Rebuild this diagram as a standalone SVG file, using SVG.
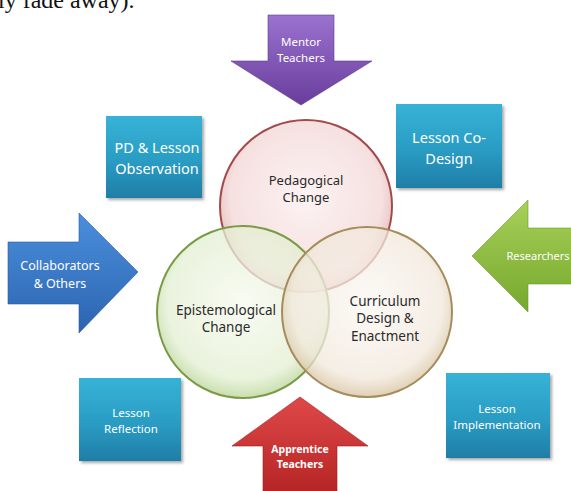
<svg xmlns="http://www.w3.org/2000/svg" width="571" height="491" viewBox="0 0 571 491">
  <defs>
    <style>
      .lbl { font-family: "Noto Sans", "Open Sans", sans-serif; text-anchor: middle; }
      .white { fill: #ffffff; }
      .dark { fill: #2a2a2a; }
      .box { fill: url(#teal); filter: url(#shadow); }
      .ring { stroke-width: 2; }
    </style>
    <linearGradient id="teal" x1="0" y1="0" x2="0" y2="1">
      <stop offset="0" stop-color="#36b3d6"/>
      <stop offset="0.55" stop-color="#2a9cc4"/>
      <stop offset="1" stop-color="#1f7ea6"/>
    </linearGradient>
    <linearGradient id="purple" x1="0" y1="0" x2="0" y2="1">
      <stop offset="0" stop-color="#9a72cf"/>
      <stop offset="1" stop-color="#6a3d9c"/>
    </linearGradient>
    <linearGradient id="blue" x1="0" y1="0" x2="0" y2="1">
      <stop offset="0" stop-color="#4a8fdc"/>
      <stop offset="1" stop-color="#2c64b0"/>
    </linearGradient>
    <linearGradient id="green" x1="0" y1="0" x2="0" y2="1">
      <stop offset="0" stop-color="#a8d05a"/>
      <stop offset="1" stop-color="#76a82c"/>
    </linearGradient>
    <linearGradient id="red" x1="0" y1="0" x2="0" y2="1">
      <stop offset="0" stop-color="#e04848"/>
      <stop offset="1" stop-color="#b42424"/>
    </linearGradient>
    <radialGradient id="pinkFill" cx="0.5" cy="0.45" r="0.55">
      <stop offset="0" stop-color="#fbeeee" stop-opacity="0.75"/>
      <stop offset="0.8" stop-color="#f3d6d6" stop-opacity="0.75"/>
      <stop offset="1" stop-color="#e2a8a8" stop-opacity="0.8"/>
    </radialGradient>
    <radialGradient id="greenFill" cx="0.5" cy="0.45" r="0.55">
      <stop offset="0" stop-color="#f5faee" stop-opacity="0.75"/>
      <stop offset="0.8" stop-color="#e3efd2" stop-opacity="0.75"/>
      <stop offset="1" stop-color="#bcd69a" stop-opacity="0.8"/>
    </radialGradient>
    <radialGradient id="tanFill" cx="0.5" cy="0.45" r="0.55">
      <stop offset="0" stop-color="#fbf7f2" stop-opacity="0.75"/>
      <stop offset="0.8" stop-color="#f1e8dc" stop-opacity="0.75"/>
      <stop offset="1" stop-color="#d8c4a2" stop-opacity="0.8"/>
    </radialGradient>
    <filter id="shadow" x="-10%" y="-10%" width="125%" height="125%">
      <feGaussianBlur in="SourceAlpha" stdDeviation="1.5"/>
      <feOffset dx="1.5" dy="2" result="b"/>
      <feComponentTransfer><feFuncA type="linear" slope="0.35"/></feComponentTransfer>
      <feMerge><feMergeNode/><feMergeNode in="SourceGraphic"/></feMerge>
    </filter>
  </defs>

  <rect width="571" height="491" fill="#ffffff"/>

  <!-- running text above the figure -->
  <text x="-2" y="8" font-family="Liberation Serif, serif" font-size="24" fill="#111">ly fade away).</text>

  <!-- overlapping change circles -->
  <g id="pedagogical">
    <circle class="ring" cx="306" cy="206" r="86" fill="url(#pinkFill)" stroke="#a14a4a"/>
    <text class="lbl dark" x="306" y="185" font-size="13">Pedagogical</text>
    <text class="lbl dark" x="306" y="202" font-size="13">Change</text>
  </g>
  <g id="epistemological">
    <circle class="ring" cx="243" cy="312" r="86" fill="url(#greenFill)" stroke="#7a9a48"/>
    <text class="lbl dark" x="226" y="315" font-size="13.5">Epistemological</text>
    <text class="lbl dark" x="226" y="332" font-size="13.5">Change</text>
  </g>
  <g id="curriculum">
    <circle class="ring" cx="367" cy="312" r="85" fill="url(#tanFill)" stroke="#a68c5c"/>
    <text class="lbl dark" x="385" y="306" font-size="13.5">Curriculum</text>
    <text class="lbl dark" x="385" y="323" font-size="13.5">Design &amp;</text>
    <text class="lbl dark" x="385" y="341" font-size="13.5">Enactment</text>
  </g>

  <!-- activity boxes -->
  <g id="pd-observation">
    <rect class="box" x="106" y="116" width="96" height="82"/>
    <text class="lbl white" x="157" y="153" font-size="14.5">PD &amp; Lesson</text>
    <text class="lbl white" x="157" y="174" font-size="14.5">Observation</text>
  </g>
  <g id="co-design">
    <rect class="box" x="396" y="104" width="106" height="84"/>
    <text class="lbl white" x="449" y="143" font-size="14.5">Lesson Co-</text>
    <text class="lbl white" x="449" y="164" font-size="14.5">Design</text>
  </g>
  <g id="reflection">
    <rect class="box" x="79" y="378" width="102" height="83"/>
    <text class="lbl white" x="131" y="417" font-size="11.5">Lesson</text>
    <text class="lbl white" x="131" y="433" font-size="11.5">Reflection</text>
  </g>
  <g id="implementation">
    <rect class="box" x="446" y="373" width="104" height="85"/>
    <text class="lbl white" x="497" y="413" font-size="11.5">Lesson</text>
    <text class="lbl white" x="497" y="429" font-size="11.5">Implementation</text>
  </g>

  <!-- participant arrows -->
  <g id="mentor-teachers">
    <polygon points="268,15 334,15 334,61 372,61 301,105 231,61 268,61" fill="url(#purple)" stroke="#5e3a8a" stroke-width="0.6"/>
    <text class="lbl white" x="301" y="46" font-size="11.5">Mentor</text>
    <text class="lbl white" x="301" y="62" font-size="11.5">Teachers</text>
  </g>
  <g id="collaborators">
    <polygon points="8,242 79,242 79,213 138,272 79,333 79,304 8,304" fill="url(#blue)" stroke="#285a9e" stroke-width="0.6"/>
    <text class="lbl white" x="60" y="270" font-size="12.5">Collaborators</text>
    <text class="lbl white" x="60" y="288" font-size="12.5">&amp; Others</text>
  </g>
  <g id="researchers">
    <polygon points="575,228 528,228 528,200 472,256 528,312 528,284 575,284" fill="url(#green)" stroke="#6a9a28" stroke-width="0.6"/>
    <text class="lbl white" x="538" y="260" font-size="11">Researchers</text>
  </g>
  <g id="apprentice-teachers">
    <polygon points="300,397 368,446 337,446 337,495 263,495 263,446 232,446" fill="url(#red)" stroke="#9a2020" stroke-width="0.6"/>
    <text class="lbl white" x="300" y="453" font-size="10.5" font-weight="bold">Apprentice</text>
    <text class="lbl white" x="300" y="468" font-size="10.5" font-weight="bold">Teachers</text>
  </g>
</svg>
